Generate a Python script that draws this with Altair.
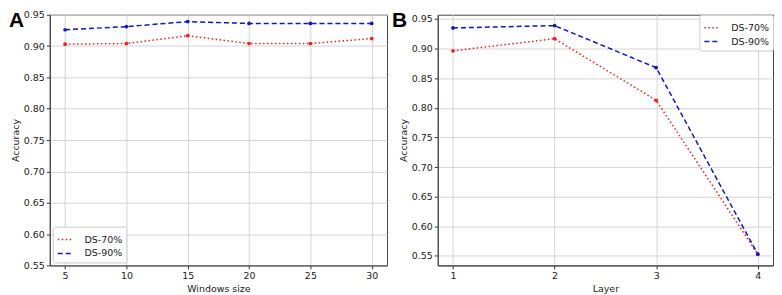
import altair as alt
import pandas as pd

series_names = ["DS-70%", "DS-90%"]

# Panel A
window_sizes = [5, 10, 15, 20, 25, 30]
a_ds70 = [0.903, 0.904, 0.9165, 0.904, 0.904, 0.912]
a_ds90 = [0.926, 0.931, 0.939, 0.936, 0.936, 0.936]

# Panel B
layers = [1, 2, 3, 4]
b_ds70 = [0.896, 0.9165, 0.8125, 0.553]
b_ds90 = [0.9347, 0.9386, 0.8676, 0.553]

y_ticks = [0.55, 0.60, 0.65, 0.70, 0.75, 0.80, 0.85, 0.90, 0.95]

df_a = pd.DataFrame({
    "x": window_sizes * 2,
    "y": a_ds70 + a_ds90,
    "series": [series_names[0]] * len(window_sizes) + [series_names[1]] * len(window_sizes),
})
df_b = pd.DataFrame({
    "x": layers * 2,
    "y": b_ds70 + b_ds90,
    "series": [series_names[0]] * len(layers) + [series_names[1]] * len(layers),
})

FONT = "DejaVu Sans"
FS = 9.5
color_scale = alt.Scale(domain=series_names, range=["#ff1a1a", "#1414c8"])
dash_scale = alt.Scale(domain=series_names, range=[[1.5, 2.5], [5, 3]])


def panel(df, letter, xtitle, xdomain, xticks, ydomain, legend_orient, legend_offset, w, h, letter_x):
    legend = alt.Legend(
        title=None, orient=legend_orient, offset=legend_offset,
        fillColor="white", strokeColor="#cccccc", cornerRadius=2, padding=4,
        labelFont=FONT, labelFontSize=FS, labelColor="#222",
        symbolType="stroke", symbolSize=256, symbolStrokeWidth=1.5,
        rowPadding=0, labelOffset=10,
    )
    base = alt.Chart(df).mark_line(
        strokeWidth=1.5,
        point=alt.OverlayMarkDef(filled=True, size=14),
    ).encode(
        x=alt.X("x:Q", title=xtitle, scale=alt.Scale(domain=xdomain, nice=False, zero=False),
                axis=alt.Axis(values=xticks, format="d", grid=True)),
        y=alt.Y("y:Q", title="Accuracy", scale=alt.Scale(domain=ydomain, nice=False, zero=False),
                axis=alt.Axis(values=y_ticks, format=".2f", grid=True)),
        color=alt.Color("series:N", scale=color_scale, legend=legend),
        strokeDash=alt.StrokeDash("series:N", scale=dash_scale, legend=legend),
    )
    lab = alt.Chart(pd.DataFrame({"t": [letter]})).mark_text(
        font="Liberation Sans", fontWeight="bold", fontSize=21, align="left", baseline="top",
        color="black",
    ).encode(text="t:N", x=alt.value(letter_x), y=alt.value(-5))
    return alt.layer(base, lab).properties(width=w, height=h)


chart_a = panel(df_a, "A", "Windows size", [3.75, 31.25], window_sizes, [0.55, 0.95],
                "bottom-left", 3, 339, 252, -41)
chart_b = panel(df_b, "B", "Layer", [0.85, 4.15], layers, [0.534, 0.957],
                "top-right", 0, 337, 252, -46)

chart = alt.hconcat(chart_a, chart_b, spacing=3).properties(
    padding={"left": 0, "top": 0, "right": 0, "bottom": 0}
).configure_view(
    stroke="#444444", strokeWidth=1
).configure_axis(
    labelFont=FONT, labelFontSize=FS, labelColor="#222222",
    titleFont=FONT, titleFontSize=FS, titleFontWeight="normal", titleColor="#222222",
    gridColor="#d4d4d4", gridWidth=1, tickColor="#333333", tickSize=3.5,
    domainColor="#444444", labelPadding=2, titlePadding=3,
)

chart.save("out.html", embed_options={"renderer": "svg", "actions": False})
